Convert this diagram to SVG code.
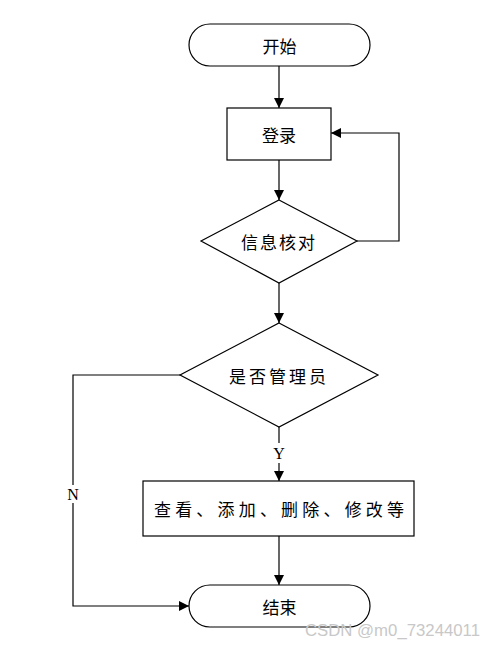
<svg xmlns="http://www.w3.org/2000/svg" width="496" height="648" viewBox="0 0 496 648">
<style>
.s{fill:#fff;stroke:#000;stroke-width:1.2}
.c{fill:none;stroke:#000;stroke-width:1.2}
.t{font-family:"Noto Sans CJK SC","Noto Sans",sans-serif;font-size:17px;fill:#000;text-anchor:middle;dominant-baseline:central}
.l{font-family:"Liberation Serif",serif;font-size:16px;fill:#000;text-anchor:middle;dominant-baseline:central}
.w{font-family:"Liberation Sans",Arial,sans-serif;font-size:16px;fill:#c8c8c8}
</style>
<defs>
<marker id="a" markerWidth="10" markerHeight="10" refX="10" refY="5" orient="auto" markerUnits="userSpaceOnUse">
<path d="M0,0 L10,5 L0,10 Z" fill="#000"/>
</marker>
</defs>
<rect width="496" height="648" fill="#fff"/>
<g id="connectors">
<line class="c" x1="279" y1="66" x2="279" y2="108" marker-end="url(#a)"/>
<line class="c" x1="279" y1="160" x2="279" y2="200" marker-end="url(#a)"/>
<polyline class="c" points="357,241 399,241 399,133 331,133" marker-end="url(#a)"/>
<line class="c" x1="279" y1="283" x2="279" y2="323" marker-end="url(#a)"/>
<line class="c" x1="279" y1="427" x2="279" y2="443"/>
<line class="c" x1="279" y1="463" x2="279" y2="481" marker-end="url(#a)"/>
<line class="c" x1="279" y1="536" x2="279" y2="585" marker-end="url(#a)"/>
<polyline class="c" points="180,375 73,375 73,485"/>
<polyline class="c" points="73,503 73,606 189,606" marker-end="url(#a)"/>
<text class="l" x="279" y="453">Y</text>
<text class="l" x="73" y="494">N</text>
</g>
<g id="start">
<rect class="s" x="189" y="24" width="181" height="42" rx="21" ry="21"/>
<text class="t" x="279.5" y="45">开始</text>
</g>
<g id="login">
<rect class="s" x="227" y="108" width="104" height="52"/>
<text class="t" x="279" y="134">登录</text>
</g>
<g id="verify">
<polygon class="s" points="279,200 357,241 279,283 201,241"/>
<text class="t" x="279" y="241" letter-spacing="2">信息核对</text>
</g>
<g id="admin">
<polygon class="s" points="279,323 378,375 279,427 180,375"/>
<text class="t" x="279" y="375" letter-spacing="3">是否管理员</text>
</g>
<g id="ops">
<rect class="s" x="143" y="481" width="271" height="55"/>
<text class="t" x="279" y="508" textLength="250" lengthAdjust="spacing">查看、添加、删除、修改等</text>
</g>
<g id="end">
<rect class="s" x="189" y="585" width="181" height="42" rx="21" ry="21"/>
<text class="t" x="279.5" y="606">结束</text>
</g>
<text class="w" x="305" y="636" textLength="175" lengthAdjust="spacingAndGlyphs">CSDN @m0_73244011</text>
</svg>
